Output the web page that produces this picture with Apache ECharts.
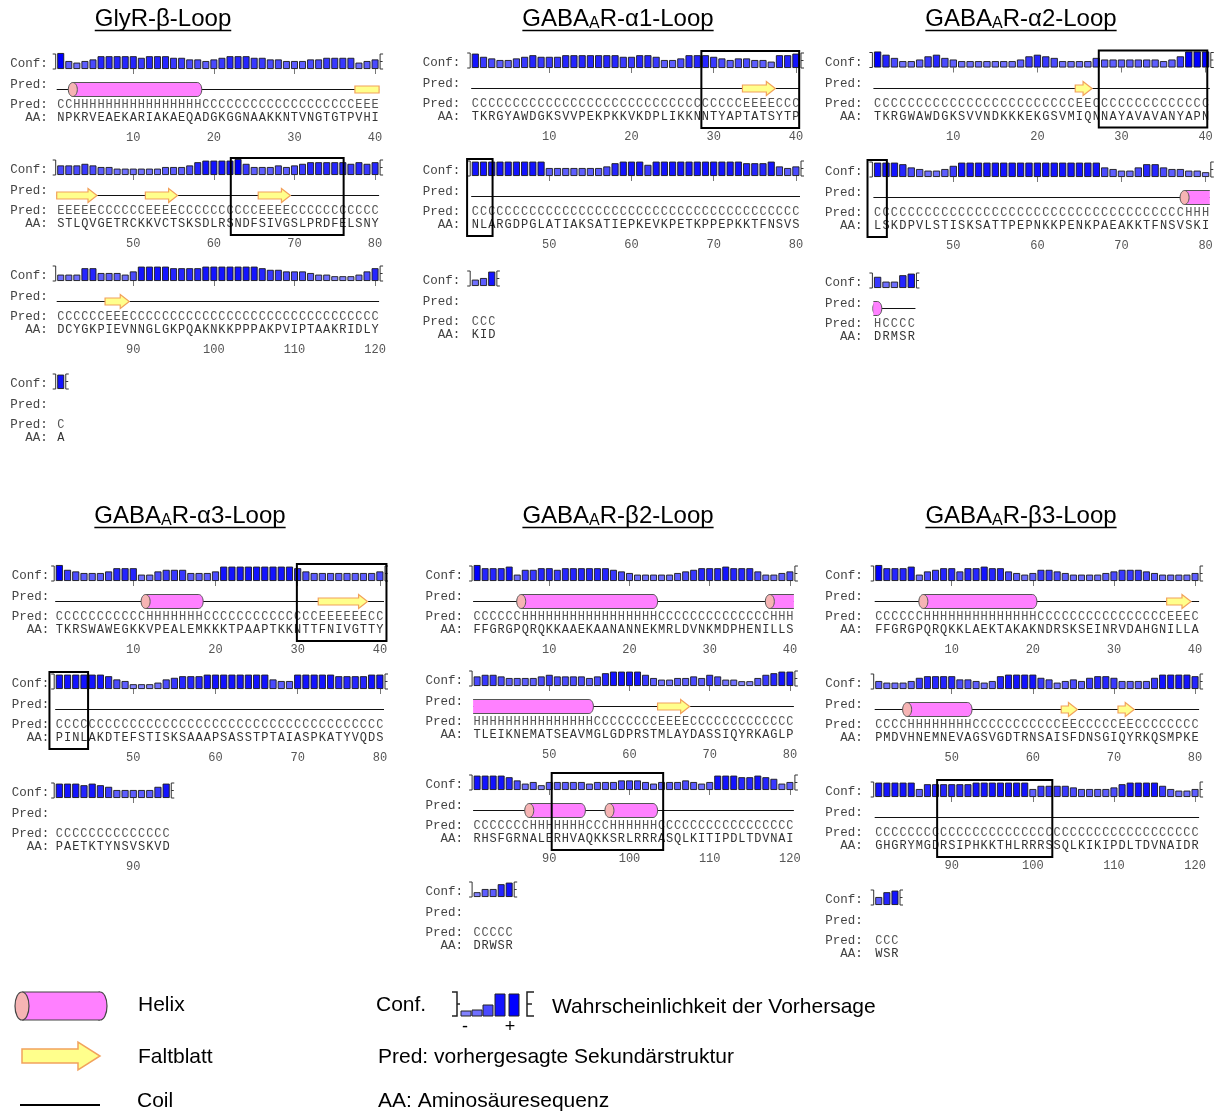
<!DOCTYPE html>
<html>
<head>
<meta charset="utf-8">
<script src="https://cdn.jsdelivr.net/npm/echarts@6.0.0/dist/echarts.min.js"></script>
<style>
  html, body { margin: 0; background: #fff; }
  #chart { width: 1220px; height: 1111px; }
</style>
</head>
<body>
<div id="chart"></div>
<script>
/* PSIPRED secondary structure predictions, one panel per receptor loop */

let titleParts = [
  ["GlyR-\u03b2-Loop", "", ""],
  ["GABA", "A", "R-\u03b11-Loop"],
  ["GABA", "A", "R-\u03b12-Loop"],
  ["GABA", "A", "R-\u03b13-Loop"],
  ["GABA", "A", "R-\u03b22-Loop"],
  ["GABA", "A", "R-\u03b23-Loop"],
];

/* GlyR beta */
let glyrAA = ["NPKRVEAEKA", "RIAKAEQADG", "KGGNAAKKNT", "VNGTGTPVHI",
  "STLQVGETRC", "KKVCTSKSDL", "RSNDFSIVGS", "LPRDFELSNY",
  "DCYGKPIEVN", "NGLGKPQAKN", "KKPPPAKPVI", "PTAAKRIDLY", "A"].join("");
let glyrPred = ["CCHHHHHHHH", "HHHHHHHHCC", "CCCCCCCCCC", "CCCCCCCEEE",
  "EEEEECCCCC", "CEEEECCCCC", "CCCCCEEEEC", "CCCCCCCCCC",
  "CCCCCCEEEC", "CCCCCCCCCC", "CCCCCCCCCC", "CCCCCCCCCC", "C"].join("");
let glyrConf = [
  9,4,3,4,5,7,7,7,7,7, 6,7,7,7,6,6,5,5,4,5, 6,7,7,7,6,6,5,5,4,4, 4,5,5,6,6,6,6,3,4,5,
  5,5,5,6,5,4,4,3,3,3, 3,3,3,4,4,4,5,7,8,8, 8,8,9,6,4,4,4,5,4,5, 6,7,7,7,7,7,6,7,6,7,
  3,3,3,7,7,4,4,4,3,5, 8,8,8,8,7,7,7,7,8,8, 8,8,8,8,8,7,6,6,5,5, 5,4,3,3,2,2,2,3,5,7,
  8];

/* GABAA alpha1 */
let a1AA = ["TKRGYAWDGK", "SVVPEKPKKV", "KDPLIKKNNT", "YAPTATSYTP",
  "NLARGDPGLA", "TIAKSATIEP", "KEVKPETKPP", "EPKKTFNSVS", "KID"].join("");
let a1Pred = ["CCCCCCCCCC", "CCCCCCCCCC", "CCCCCCCCCC", "CCCEEEECCC",
  "CCCCCCCCCC", "CCCCCCCCCC", "CCCCCCCCCC", "CCCCCCCCCC", "CCC"].join("");
let a1Conf = [
  8,6,5,4,4,5,6,7,6,6, 6,7,7,7,7,7,7,7,6,6, 7,7,6,4,4,5,7,7,7,6, 5,4,5,5,4,4,3,7,7,8,
  8,8,8,8,8,8,8,8,8,4, 4,4,4,4,4,4,5,7,8,8, 8,6,8,8,8,8,8,8,8,8, 8,8,8,7,7,7,8,5,4,5,
  3,4,8];

/* GABAA alpha2 */
let a2AA = ["TKRGWAWDGK", "SVVNDKKKEK", "GSVMIQNNAY", "AVAVANYAPN",
  "LSKDPVLSTI", "SKSATTPEPN", "KKPENKPAEA", "KKTFNSVSKI", "DRMSR"].join("");
let a2Pred = ["CCCCCCCCCC", "CCCCCCCCCC", "CCCCEECCCC", "CCCCCCCCCC",
  "CCCCCCCCCC", "CCCCCCCCCC", "CCCCCCCCCC", "CCCCCCCHHH", "HCCCC"].join("");
let a2Conf = [
  9,7,5,3,3,4,6,7,5,4, 3,3,3,3,3,3,3,4,6,7, 6,5,3,3,3,3,5,4,4,4, 4,4,4,4,3,4,6,9,9,9,
  8,8,8,7,5,4,3,3,4,6, 8,8,8,8,8,8,8,8,8,8, 8,8,8,8,8,8,8,5,4,3, 3,5,7,7,5,4,4,3,3,2,
  6,3,3,7,8];

/* GABAA alpha3 */
let a3AA = ["TKRSWAWEGK", "KVPEALEMKK", "KTPAAPTKKN", "TTFNIVGTTY",
  "PINLAKDTEF", "STISKSAAAP", "SASSTPTAIA", "SPKATYVQDS", "PAETKTYNSVSKVD"].join("");
let a3Pred = ["CCCCCCCCCC", "CHHHHHHHCC", "CCCCCCCCCC", "CCEEEEEECC",
  "CCCCCCCCCC", "CCCCCCCCCC", "CCCCCCCCCC", "CCCCCCCCCC", "CCCCCCCCCCCCCC"].join("");
let a3Conf = [
  9,6,5,4,4,4,5,7,7,7, 3,3,5,6,6,6,4,4,4,5, 8,8,8,8,8,8,8,8,8,7, 5,4,4,4,4,4,4,4,4,5,
  8,8,8,8,8,8,7,5,4,2, 2,2,3,5,6,7,7,7,8,8, 8,8,8,8,8,8,5,4,4,8, 8,8,8,8,7,7,7,7,8,8,
  8,8,8,7,8,7,6,4,4,4, 4,4,6,8];

/* GABAA beta2 */
let b2AA = ["FFGRGPQRQK", "KAAEKAANAN", "NEKMRLDVNK", "MDPHENILLS",
  "TLEIKNEMAT", "SEAVMGLGDP", "RSTMLAYDAS", "SIQYRKAGLP",
  "RHSFGRNALE", "RHVAQKKSRL", "RRRASQLKIT", "IPDLTDVNAI", "DRWSR"].join("");
let b2Pred = ["CCCCCCHHHH", "HHHHHHHHHH", "HHHCCCCCCC", "CCCCCCCHHH",
  "HHHHHHHHHH", "HHHHHCCCCC", "CCCEEEECCC", "CCCCCCCCCC",
  "CCCCCCCHHH", "HHHHCCCHHH", "HHHCCCCCCC", "CCCCCCCCCC", "CCCCC"].join("");
let b2Conf = [
  9,7,7,7,8,3,6,6,7,7, 6,7,7,7,7,7,7,6,5,4, 3,3,3,3,3,4,5,6,7,7, 7,8,7,7,7,5,3,3,4,5,
  5,6,6,5,4,4,4,4,5,6, 5,5,5,5,4,5,7,8,8,8, 8,6,4,3,3,4,4,5,4,6, 5,3,3,2,2,4,6,7,8,8,
  8,8,8,8,7,5,3,4,2,4, 4,4,4,4,3,4,4,4,5,5, 5,4,3,4,4,4,5,4,3,4, 8,8,8,7,7,8,7,6,3,4,
  2,4,4,7,8];

/* GABAA beta3 */
let b3AA = ["FFGRGPQRQK", "KLAEKTAKAK", "NDRSKSEINR", "VDAHGNILLA",
  "PMDVHNEMNE", "VAGSVGDTRN", "SAISFDNSGI", "QYRKQSMPKE",
  "GHGRYMGDRS", "IPHKKTHLRR", "RSSQLKIKIP", "DLTDVNAIDR", "WSR"].join("");
let b3Pred = ["CCCCCCHHHH", "HHHHHHHHHH", "CCCCCCCCCC", "CCCCCCEEEC",
  "CCCCHHHHHH", "HHCCCCCCCC", "CCCEECCCCC", "EECCCCCCCC",
  "CCCCCCCCCC", "CCCCCCCCCC", "CCCCCCCCCC", "CCCCCCCCCC", "CCC"].join("");
let b3Conf = [
  9,7,7,7,8,3,5,6,7,7, 5,7,7,8,7,7,5,4,3,4, 6,6,5,4,3,3,3,3,4,5, 6,6,6,5,4,3,3,3,3,4,
  4,3,3,3,4,6,7,7,7,7, 5,5,4,3,4,7,8,8,8,8, 6,5,3,4,5,4,6,7,7,6, 4,4,4,4,6,8,8,8,8,7,
  8,8,8,8,8,4,7,7,7,7, 7,7,8,8,8,8,8,8,8,4, 6,6,6,6,5,4,4,4,4,5, 7,8,8,8,8,6,4,3,3,4,
  4,7,8];

/* highlighted regions: [panel, row, from residue, to residue] */
let boxes = [
  [0, 1, 62.1, 76.1],
  [1, 0, 28.5, 40.4], [1, 1, 40.0, 43.1],
  [2, 0, 27.3, 40.2], [2, 1, 39.8, 42.1],
  [3, 0, 29.9, 40.8], [3, 1, 39.8, 44.5],
  [4, 2, 90.3, 104.2],
  [5, 2, 88.2, 102.4],
];

let panels = [
  { aa: glyrAA, pred: glyrPred, conf: glyrConf },
  { aa: a1AA, pred: a1Pred, conf: a1Conf },
  { aa: a2AA, pred: a2Pred, conf: a2Conf },
  { aa: a3AA, pred: a3Pred, conf: a3Conf },
  { aa: b2AA, pred: b2Pred, conf: b2Conf },
  { aa: b3AA, pred: b3Pred, conf: b3Conf },
];

/* page layout (pixels) */
let layout = [
  { left: 56.7, colW: 8.06, base: [69, 175, 281, 389], lm: 9, tx: 163, ty: 19 },
  { left: 471.2, colW: 8.22, base: [68, 176, 286], lm: 11, tx: 618, ty: 19 },
  { left: 873.4, colW: 8.41, base: [67.5, 177, 288], lm: 11, tx: 1021, ty: 19 },
  { left: 55.2, colW: 8.22, base: [581, 689, 798], lm: 6, tx: 190, ty: 516 },
  { left: 473.1, colW: 8.02, base: [581, 686, 790, 897], lm: 10, tx: 618, ty: 516 },
  { left: 874.7, colW: 8.11, base: [581, 689, 797, 905], lm: 12, tx: 1021, ty: 516 },
];

let MONO = '"Liberation Mono", "DejaVu Sans Mono", monospace';
let SANS = '"Liberation Sans", Arial, sans-serif';
let rowLabels = { "5": "Conf:", "-16": "Pred:", "-36": "Pred:", "-49": "AA:" };

function shade(c) {
  let t = Math.max(0, Math.min(1, (9 - c) / 7));
  let v = Math.round(t * 130);
  return "rgb(" + v + "," + v + ",255)";
}

/* split H / E runs of one row into drawable segments */
function rowSegments(pred, start, end) {
  let segs = [];
  let k = start;
  while (k <= end) {
    let ch = pred[k - 1];
    let j = k;
    while (j < end && pred[j] === ch) j++;
    if (ch !== "C") {
      let openL = k === start && k > 1 && pred[k - 2] === ch ? 1 : 0;
      let openR = j === end && j < pred.length && pred[j] === ch ? 1 : 0;
      segs.push([k - 0.5, j + 0.5, ch === "H" ? 1 : 2, openL, openR]);
    }
    k = j + 1;
  }
  return segs;
}

function renderShapes(params, api) {
  let a = api.coord([api.value(0), 0]);
  let b = api.coord([api.value(1), 0]);
  let x0 = a[0], x1 = b[0], y0 = a[1];
  let kind = api.value(2);
  let openL = api.value(3), openR = api.value(4);
  let cy = Math.round(y0 + 20) + 0.5;

  if (kind === 0) {
    return { type: "line", shape: { x1: x0, y1: cy, x2: x1, y2: cy },
      style: { stroke: "#111", lineWidth: 1 } };
  }
  if (kind === 1) {
    let ry = 7, rx = 4.5;
    let xb = openR ? x1 : x1 - rx;
    let kids = [];
    if (!openR) {
      kids.push({ type: "ellipse", shape: { cx: xb, cy: cy, rx: rx, ry: ry },
        style: { fill: "#ff80ff", stroke: "#555", lineWidth: 1 } });
    }
    kids.push({ type: "rect", shape: { x: x0, y: cy - ry, width: xb - x0, height: 2 * ry },
      style: { fill: "#ff80ff", stroke: null } });
    kids.push({ type: "line", shape: { x1: x0, y1: cy - ry, x2: xb, y2: cy - ry },
      style: { stroke: "#555", lineWidth: 1 } });
    kids.push({ type: "line", shape: { x1: x0, y1: cy + ry, x2: xb, y2: cy + ry },
      style: { stroke: "#555", lineWidth: 1 } });
    if (!openL) {
      kids.push({ type: "ellipse", shape: { cx: x0, cy: cy, rx: rx, ry: ry },
        style: { fill: "#f6b4b4", stroke: "#555", lineWidth: 1 } });
    }
    return { type: "group", children: kids };
  }
  if (kind === 2) {
    let pts;
    if (openR) {
      pts = [[x0, cy - 3.5], [x1, cy - 3.5], [x1, cy + 3.5], [x0, cy + 3.5]];
    } else {
      let hx = Math.max(x0 + 3, x1 - 9);
      pts = [[x0, cy - 3.5], [hx, cy - 3.5], [hx, cy - 7], [x1, cy],
        [hx, cy + 7], [hx, cy + 3.5], [x0, cy + 3.5]];
    }
    return { type: "polygon", shape: { points: pts },
      style: { fill: "#ffff8c", stroke: "#f2a25c", lineWidth: 1.2 } };
  }
  if (kind === 3) {
    let top = y0 - 15;
    return { type: "group", children: [
      { type: "polyline", shape: { points: [[x0 - 4, top], [x0 - 1, top], [x0 - 1, y0], [x0 - 4, y0]] },
        style: { stroke: "#333", lineWidth: 1, fill: null } },
      { type: "polyline", shape: { points: [[x1 + 4, top], [x1 + 1, top], [x1 + 1, y0], [x1 + 4, y0]] },
        style: { stroke: "#333", lineWidth: 1, fill: null } },
      { type: "line", shape: { x1: x1 + 1, y1: y0 - 7.5, x2: x1 + 3.5, y2: y0 - 7.5 },
        style: { stroke: "#333", lineWidth: 1 } },
    ] };
  }
  /* kind 4: highlight box */
  return { type: "rect", shape: { x: x0, y: y0 - 17, width: x1 - x0, height: 77 },
    style: { fill: null, stroke: "#000", lineWidth: 2 } };
}

function makeTextRender(pred, aa) {
  return function (params, api) {
    let c = api.value(0);
    let pt = api.coord([c, 0]);
    let base = { font: "12px " + MONO, align: "center", textAlign: "center",
      verticalAlign: "middle", textVerticalAlign: "middle" };
    return { type: "group", children: [
      { type: "text", style: Object.assign({ text: pred[c - 1], x: pt[0], y: pt[1] + 36, fill: "#555" }, base) },
      { type: "text", style: Object.assign({ text: aa[c - 1], x: pt[0], y: pt[1] + 49, fill: "#333" }, base) },
    ] };
  };
}

let grids = [], xAxes = [], yAxes = [], series = [];

panels.forEach(function (p, pi) {
  let lay = layout[pi];
  let n = p.aa.length;
  lay.base.forEach(function (B, r) {
    let g = grids.length;
    let start = r * 40 + 1;
    let end = Math.min(start + 39, n);
    let ticks = [];
    for (let t = Math.ceil(start / 10) * 10; t <= end; t += 10) ticks.push(t);

    grids.push({ left: lay.left, top: B - 16, width: 40 * lay.colW, height: 71,
      outerBoundsMode: "none", containLabel: false });

    xAxes.push({
      type: "value", gridIndex: g, min: start - 0.5, max: start + 39.5,
      axisLine: { show: false }, splitLine: { show: false },
      axisTick: { show: ticks.length > 0, customValues: ticks, length: 5,
        lineStyle: { color: "#777", width: 1 } },
      axisLabel: { show: ticks.length > 0, customValues: ticks, margin: 8,
        fontFamily: MONO, fontSize: 12, color: "#555" },
    });

    yAxes.push({
      type: "value", gridIndex: g, min: -55, max: 16,
      axisLine: { show: false }, axisTick: { show: false }, splitLine: { show: false },
      axisLabel: { customValues: [5, -16, -36, -49], margin: lay.lm,
        formatter: function (v) { return rowLabels[String(v)] || ""; },
        fontFamily: MONO, fontSize: 12.5, color: "#444" },
    });

    let confRow = p.conf.slice(start - 1, end);
    series.push({
      type: "bar", xAxisIndex: g, yAxisIndex: g, silent: true,
      barWidth: lay.colW - 1.1,
      itemStyle: { borderColor: "#1a1a1a", borderWidth: 0.9 },
      data: confRow.map(function (c, k) {
        return { value: [start + k, (c + 1) * 1.6], itemStyle: { color: shade(c) } };
      }),
    });

    let rowPred = p.pred.slice(start - 1, end);
    let items = [];
    if (end - start + 1 === 40 || /[HE]/.test(rowPred)) items.push([start - 0.5, end + 0.5, 0, 0, 0]);
    rowSegments(p.pred, start, end).forEach(function (s) { items.push(s); });
    items.push([start - 0.5, end + 0.5, 3, 0, 0]);
    boxes.forEach(function (bx) {
      if (bx[0] === pi && bx[1] === r) items.push([bx[2], bx[3], 4, 0, 0]);
    });
    series.push({
      type: "custom", xAxisIndex: g, yAxisIndex: g, silent: true, z: 4,
      encode: { x: [0, 1], y: 2 },
      renderItem: renderShapes, data: items,
    });

    let cols = [];
    for (let c = start; c <= end; c++) cols.push([c, 0]);
    series.push({
      type: "custom", xAxisIndex: g, yAxisIndex: g, silent: true, z: 3,
      encode: { x: 0, y: 1 },
      renderItem: makeTextRender(p.pred, p.aa), data: cols,
    });
  });
});

/* titles with subscript and underline */
let measureCtx = document.createElement("canvas").getContext("2d");
function textW(str, font) {
  measureCtx.font = font;
  return measureCtx.measureText(str).width;
}

let graphics = [];
titleParts.forEach(function (parts, pi) {
  let lay = layout[pi];
  let f1 = "24px " + SANS, f2 = "16px " + SANS;
  let w1 = textW(parts[0], f1);
  let w2 = parts[1] ? textW(parts[1], f2) : 0;
  let w3 = parts[2] ? textW(parts[2], f1) : 0;
  let W = w1 + w2 + w3;
  let x = lay.tx - W / 2;
  let y = lay.ty;
  graphics.push({ type: "text", x: x, y: y, style: { text: parts[0], font: f1, fill: "#000",
    align: "left", verticalAlign: "middle" } });
  if (parts[1]) {
    graphics.push({ type: "text", x: x + w1, y: y + 5, style: { text: parts[1], font: f2, fill: "#000",
      align: "left", verticalAlign: "middle" } });
    graphics.push({ type: "text", x: x + w1 + w2, y: y, style: { text: parts[2], font: f1, fill: "#000",
      align: "left", verticalAlign: "middle" } });
  }
  graphics.push({ type: "line", shape: { x1: x, y1: y + 11.5, x2: x + W, y2: y + 11.5 },
    style: { stroke: "#000", lineWidth: 1.3 } });
});

/* legend */
let legendFont = "21px " + SANS;
graphics.push(
  { type: "ellipse", shape: { cx: 100, cy: 1006, rx: 7, ry: 14 }, style: { fill: "#ff80ff", stroke: "#444", lineWidth: 1.2 } },
  { type: "rect", shape: { x: 22, y: 992, width: 78, height: 28 }, style: { fill: "#ff80ff", stroke: null } },
  { type: "line", shape: { x1: 22, y1: 992, x2: 100, y2: 992 }, style: { stroke: "#444", lineWidth: 1.2 } },
  { type: "line", shape: { x1: 22, y1: 1020, x2: 100, y2: 1020 }, style: { stroke: "#444", lineWidth: 1.2 } },
  { type: "ellipse", shape: { cx: 22, cy: 1006, rx: 7, ry: 14 }, style: { fill: "#f6b4b4", stroke: "#444", lineWidth: 1.2 } },
  { type: "polygon", shape: { points: [[22, 1049], [78, 1049], [78, 1042], [100, 1056], [78, 1070], [78, 1063], [22, 1063]] },
    style: { fill: "#ffff8c", stroke: "#f2a25c", lineWidth: 1.5 } },
  { type: "line", shape: { x1: 20, y1: 1105, x2: 100, y2: 1105 }, style: { stroke: "#000", lineWidth: 2 } },
  { type: "text", x: 138, y: 1005, style: { text: "Helix", font: legendFont, fill: "#000", verticalAlign: "middle" } },
  { type: "text", x: 138, y: 1057, style: { text: "Faltblatt", font: legendFont, fill: "#000", verticalAlign: "middle" } },
  { type: "text", x: 137, y: 1101, style: { text: "Coil", font: legendFont, fill: "#000", verticalAlign: "middle" } },
  { type: "text", x: 376, y: 1005, style: { text: "Conf.", font: legendFont, fill: "#000", verticalAlign: "middle" } },
  { type: "text", x: 552, y: 1007, style: { text: "Wahrscheinlichkeit der Vorhersage", font: legendFont, fill: "#000", verticalAlign: "middle" } },
  { type: "text", x: 378, y: 1057, style: { text: "Pred: vorhergesagte Sekund\u00e4rstruktur", font: legendFont, fill: "#000", verticalAlign: "middle" } },
  { type: "text", x: 378, y: 1101, style: { text: "AA: Aminos\u00e4uresequenz", font: legendFont, fill: "#000", verticalAlign: "middle" } },
  { type: "polyline", shape: { points: [[452, 992], [457, 992], [457, 1016], [452, 1016]] }, style: { stroke: "#222", lineWidth: 1.5, fill: null } },
  { type: "line", shape: { x1: 457, y1: 1004, x2: 460, y2: 1004 }, style: { stroke: "#222", lineWidth: 1.5 } },
  { type: "polyline", shape: { points: [[534, 992], [527, 992], [527, 1016], [534, 1016]] }, style: { stroke: "#222", lineWidth: 1.5, fill: null } },
  { type: "line", shape: { x1: 527, y1: 1004, x2: 532, y2: 1004 }, style: { stroke: "#222", lineWidth: 1.5 } },
  { type: "text", x: 465, y: 1027, style: { text: "-", font: "18px " + SANS, fill: "#000", align: "center", verticalAlign: "middle" } },
  { type: "text", x: 510, y: 1027, style: { text: "+", font: "18px " + SANS, fill: "#000", align: "center", verticalAlign: "middle" } }
);
[[461, 5, 2], [472, 6, 3], [483, 11, 5], [495, 22, 8], [509, 22, 9]].forEach(function (b) {
  graphics.push({ type: "rect", shape: { x: b[0], y: 1016 - b[1], width: 10, height: b[1] },
    style: { fill: shade(b[2]), stroke: "#222", lineWidth: 1 } });
});

let chart = echarts.init(document.getElementById("chart"), null, { renderer: "canvas" });
chart.setOption({
  animation: false,
  backgroundColor: "#fff",
  grid: grids,
  xAxis: xAxes,
  yAxis: yAxes,
  series: series,
  graphic: { elements: graphics },
});
</script>
</body>
</html>
